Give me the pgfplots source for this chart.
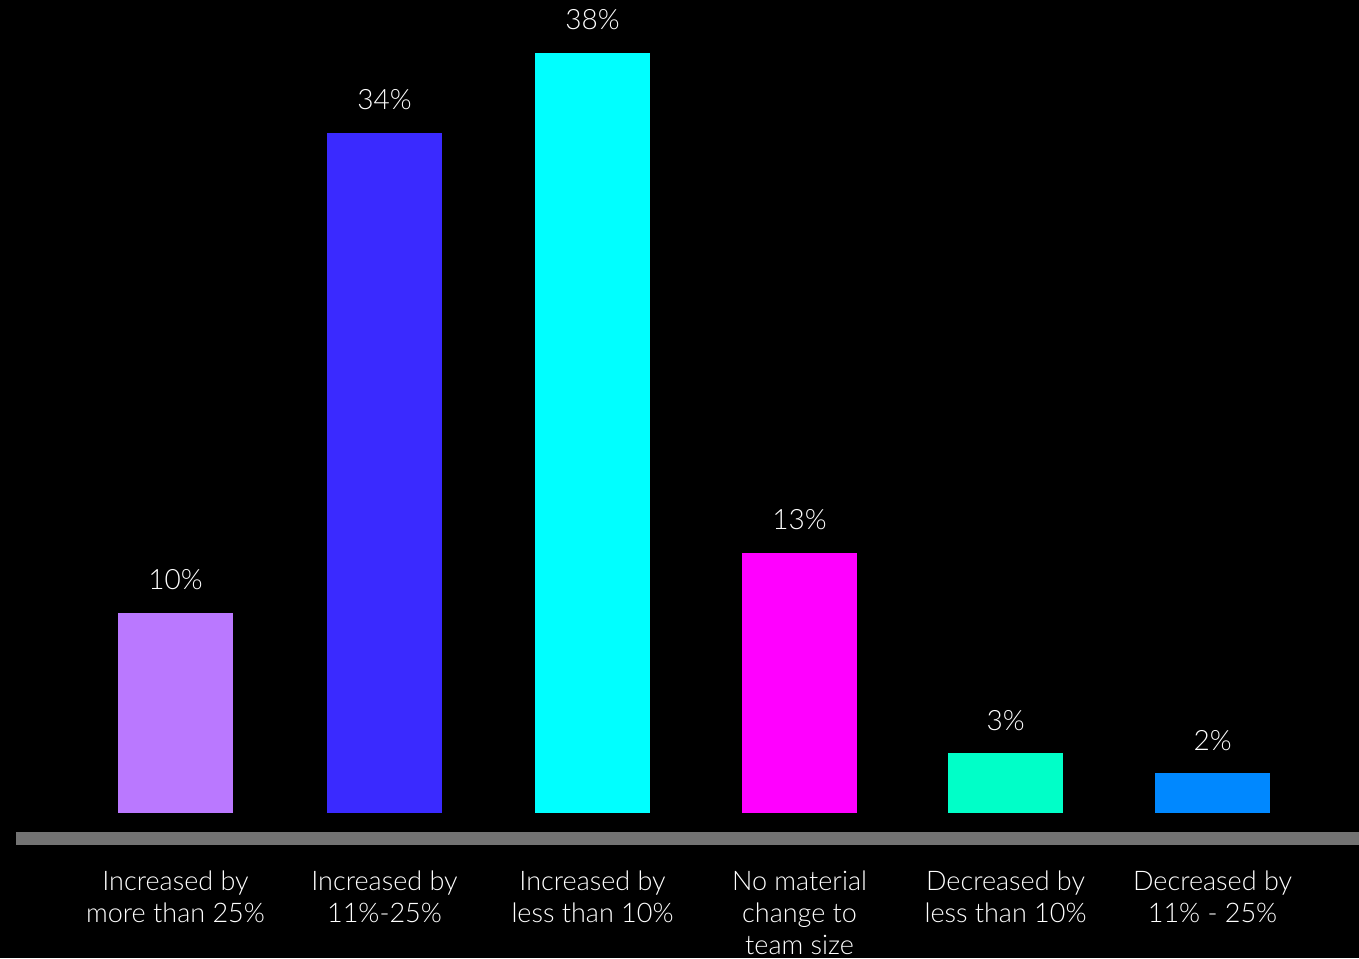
\documentclass[border=0pt]{standalone}
\usepackage{pgfplots}
\pgfplotsset{compat=1.18}
\usepackage{fontspec}
\setmainfont{Lato}[UprightFont=* Light]
\definecolor{c1}{HTML}{BA78FF}
\definecolor{c2}{HTML}{3A2AFF}
\definecolor{c3}{HTML}{00FFFF}
\definecolor{c4}{HTML}{FF00FF}
\definecolor{c5}{HTML}{00FFC8}
\definecolor{c6}{HTML}{0088FF}
\definecolor{grayline}{HTML}{737373}
\begin{document}
\begin{tikzpicture}
\fill[black] (-8pt,-56.5pt) rectangle (671.5pt,422.5pt);
\useasboundingbox (-8pt,-56.5pt) rectangle (671.5pt,422.5pt);
\begin{axis}[
  at={(0,0)}, anchor=south west,
  scale only axis, width=671.5pt, height=416pt,
  xmin=-0.769, xmax=5.706, ymin=-1.6, ymax=40,
  enlargelimits=false,
  ybar, bar width=57.5pt, bar shift=0pt,
  axis line style={draw=none},
  ytick=\empty, xtick={0,1.0077,2.0106,3.0087,4.0019,5}, major tick length=0pt,
  xticklabels={{Increased by\\more than 25\%},{Increased by\\11\%-25\%},{Increased by\\less than 10\%},{No material\\change to\\team size},{Decreased by\\less than 10\%},{Decreased by\\11\% - 25\%}},
  xticklabel style={align=center, font=\fontsize{13.5}{16}\selectfont, text=white, yshift=-9.5pt},
  /pgf/number format/assume math mode=true,
  nodes near coords={\pgfmathprintnumber{\pgfplotspointmeta}\%},
  nodes near coords style={anchor=base, yshift=11.5pt, font=\fontsize{14}{16}\selectfont, text=white},
  clip=false,
]
\draw[color=grayline, line width=6.5pt] (axis cs:-0.769,-1.25) -- (axis cs:5.706,-1.25);
\addplot[fill=c1, draw=none] coordinates {(0,10)};
\addplot[fill=c2, draw=none] coordinates {(1.0077,34)};
\addplot[fill=c3, draw=none] coordinates {(2.0106,38)};
\addplot[fill=c4, draw=none] coordinates {(3.0087,13)};
\addplot[fill=c5, draw=none] coordinates {(4.0019,3)};
\addplot[fill=c6, draw=none] coordinates {(5,2)};
\end{axis}
\end{tikzpicture}
\end{document}
